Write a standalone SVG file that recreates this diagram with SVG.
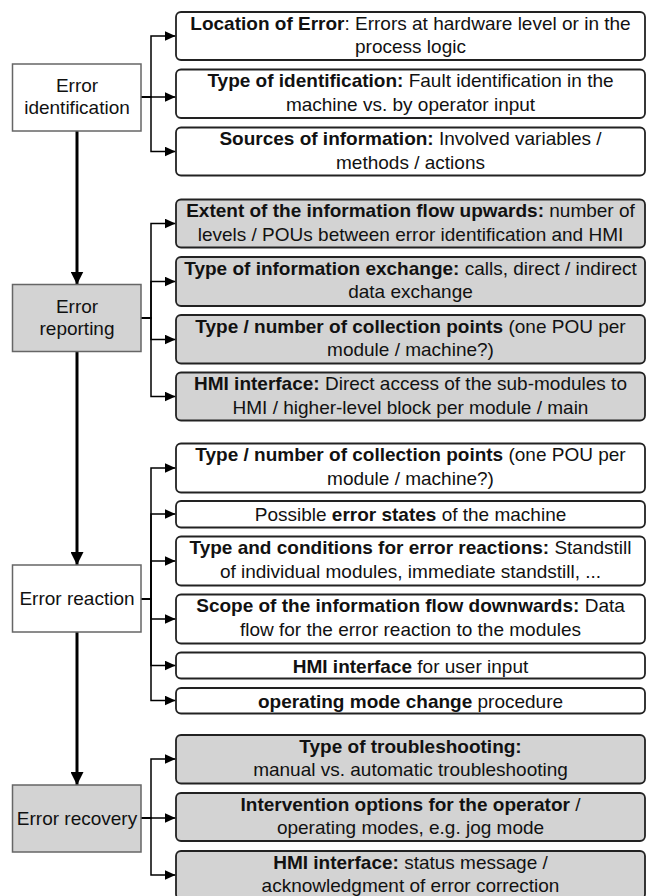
<svg xmlns="http://www.w3.org/2000/svg" width="646" height="896" viewBox="0 0 646 896">
  <style>
    text { font-family: "Liberation Sans", Arial, sans-serif; font-size: 19px; fill: #111; text-anchor: middle; }
    .b { font-weight: bold; }
    .node { stroke: #666; stroke-width: 1.5; fill: #fff; }
    .box { stroke: #222; stroke-width: 1.8; fill: #fff; }
    .grey { fill: #d3d3d3; }
    .main { stroke: #000; stroke-width: 3; fill: none; marker-end: url(#downHead); }
    .branch { stroke: #000; stroke-width: 1.5; fill: none; marker-end: url(#smallHead); }
  </style>
  <defs>
    <marker id="smallHead" markerUnits="userSpaceOnUse" markerWidth="11" markerHeight="10" refX="11" refY="5" orient="auto" viewBox="0 0 11 10">
      <path d="M0,0 L11,5 L0,10 Z" fill="#000"/>
    </marker>
    <marker id="downHead" markerUnits="userSpaceOnUse" markerWidth="13" markerHeight="13" refX="13" refY="6.5" orient="auto" viewBox="0 0 13 13">
      <path d="M0,0 L13,6.5 L0,13 Z" fill="#000"/>
    </marker>
  </defs>

  <!-- connectors: main flow and branches -->
  <g id="connectors">
    <path class="main" d="M77,131 V284.5"/>
    <path class="main" d="M77,351.5 V565"/>
    <path class="main" d="M77,632 V785"/>

    <path class="branch" d="M141,97 H151 V36 H175.5"/>
    <path class="branch" d="M141,97 H175.5"/>
    <path class="branch" d="M141,97 H151 V151.5 H175.5"/>

    <path class="branch" d="M141,318 H151 V223.5 H175.5"/>
    <path class="branch" d="M141,318 H151 V281.5 H175.5"/>
    <path class="branch" d="M141,318 H151 V339.5 H175.5"/>
    <path class="branch" d="M141,318 H151 V396.5 H175.5"/>

    <path class="branch" d="M141,599 H151 V468 H175.5"/>
    <path class="branch" d="M141,599 H151 V514 H175.5"/>
    <path class="branch" d="M141,599 H151 V561 H175.5"/>
    <path class="branch" d="M141,599 H151 V619 H175.5"/>
    <path class="branch" d="M141,599 H151 V665.5 H175.5"/>
    <path class="branch" d="M141,599 H151 V700.5 H175.5"/>

    <path class="branch" d="M141,818 H151 V759 H175.5"/>
    <path class="branch" d="M141,818 H175.5"/>
    <path class="branch" d="M141,818 H151 V875 H175.5"/>
  </g>

  <!-- phase nodes -->
  <g id="error-identification">
    <rect class="node" x="12.5" y="64" width="128.5" height="67"/>
    <text x="77" y="92">Error</text>
    <text x="77" y="113.5">identification</text>
  </g>
  <g id="error-reporting">
    <rect class="node grey" x="12.5" y="284.5" width="128.5" height="67"/>
    <text x="77" y="313">Error</text>
    <text x="77" y="334.5">reporting</text>
  </g>
  <g id="error-reaction">
    <rect class="node" x="12.5" y="565" width="128.5" height="67"/>
    <text x="77" y="604.5">Error reaction</text>
  </g>
  <g id="error-recovery">
    <rect class="node grey" x="12.5" y="785" width="128.5" height="67"/>
    <text x="77" y="824.5">Error recovery</text>
  </g>

  <!-- identification aspects -->
  <g id="location-of-error">
    <rect class="box" x="176" y="12" width="469" height="48" rx="5"/>
    <text x="410.5" y="29.5"><tspan class="b">Location of Error</tspan>: Errors at hardware level or in the</text>
    <text x="410.5" y="53">process logic</text>
  </g>
  <g id="type-of-identification">
    <rect class="box" x="176" y="69.5" width="469" height="48.5" rx="5"/>
    <text x="410.5" y="87"><tspan class="b">Type of identification:</tspan> Fault identification in the</text>
    <text x="410.5" y="110.5">machine vs. by operator input</text>
  </g>
  <g id="sources-of-information">
    <rect class="box" x="176" y="127.5" width="469" height="48" rx="5"/>
    <text x="410.5" y="145"><tspan class="b">Sources of information:</tspan> Involved variables /</text>
    <text x="410.5" y="168.5">methods / actions</text>
  </g>

  <!-- reporting aspects -->
  <g id="extent-upwards">
    <rect class="box grey" x="176" y="199.5" width="469" height="48" rx="5"/>
    <text x="410.5" y="217"><tspan class="b">Extent of the information flow upwards:</tspan> number of</text>
    <text x="410.5" y="240.5">levels / POUs between error identification and HMI</text>
  </g>
  <g id="information-exchange">
    <rect class="box grey" x="176" y="257" width="469" height="49" rx="5"/>
    <text x="410.5" y="274.5"><tspan class="b">Type of information exchange:</tspan> calls, direct / indirect</text>
    <text x="410.5" y="298">data exchange</text>
  </g>
  <g id="collection-points-reporting">
    <rect class="box grey" x="176" y="315" width="469" height="48.5" rx="5"/>
    <text x="410.5" y="332.5"><tspan class="b">Type / number of collection points</tspan> (one POU per</text>
    <text x="410.5" y="356">module / machine?)</text>
  </g>
  <g id="hmi-reporting">
    <rect class="box grey" x="176" y="372.5" width="469" height="48" rx="5"/>
    <text x="410.5" y="390"><tspan class="b">HMI interface:</tspan> Direct access of the sub-modules to</text>
    <text x="410.5" y="413.5">HMI / higher-level block per module / main</text>
  </g>

  <!-- reaction aspects -->
  <g id="collection-points-reaction">
    <rect class="box" x="176" y="443.5" width="469" height="49" rx="5"/>
    <text x="410.5" y="461"><tspan class="b">Type / number of collection points</tspan> (one POU per</text>
    <text x="410.5" y="484.5">module / machine?)</text>
  </g>
  <g id="error-states">
    <rect class="box" x="176" y="501" width="469" height="26.5" rx="5"/>
    <text x="410.5" y="521">Possible <tspan class="b">error states</tspan> of the machine</text>
  </g>
  <g id="reaction-conditions">
    <rect class="box" x="176" y="536.5" width="469" height="49" rx="5"/>
    <text x="410.5" y="554"><tspan class="b">Type and conditions for error reactions:</tspan> Standstill</text>
    <text x="410.5" y="577.5">of individual modules, immediate standstill, ...</text>
  </g>
  <g id="scope-downwards">
    <rect class="box" x="176" y="594.5" width="469" height="49" rx="5"/>
    <text x="410.5" y="612"><tspan class="b">Scope of the information flow downwards:</tspan> Data</text>
    <text x="410.5" y="635.5">flow for the error reaction to the modules</text>
  </g>
  <g id="hmi-user-input">
    <rect class="box" x="176" y="652.5" width="469" height="26" rx="5"/>
    <text x="410.5" y="672.5"><tspan class="b">HMI interface</tspan> for user input</text>
  </g>
  <g id="mode-change">
    <rect class="box" x="176" y="688" width="469" height="25.5" rx="5"/>
    <text x="410.5" y="707.5"><tspan class="b">operating mode change</tspan> procedure</text>
  </g>

  <!-- recovery aspects -->
  <g id="troubleshooting">
    <rect class="box grey" x="176" y="735" width="469" height="48.5" rx="5"/>
    <text x="410.5" y="752.5" class="b">Type of troubleshooting:</text>
    <text x="410.5" y="776">manual vs. automatic troubleshooting</text>
  </g>
  <g id="intervention-options">
    <rect class="box grey" x="176" y="793" width="469" height="48" rx="5"/>
    <text x="410.5" y="810.5"><tspan class="b">Intervention options for the operator</tspan> /</text>
    <text x="410.5" y="834">operating modes, e.g. jog mode</text>
  </g>
  <g id="hmi-recovery">
    <rect class="box grey" x="176" y="851" width="469" height="48" rx="5"/>
    <text x="410.5" y="868.5"><tspan class="b">HMI interface:</tspan> status message /</text>
    <text x="410.5" y="892">acknowledgment of error correction</text>
  </g>
</svg>
